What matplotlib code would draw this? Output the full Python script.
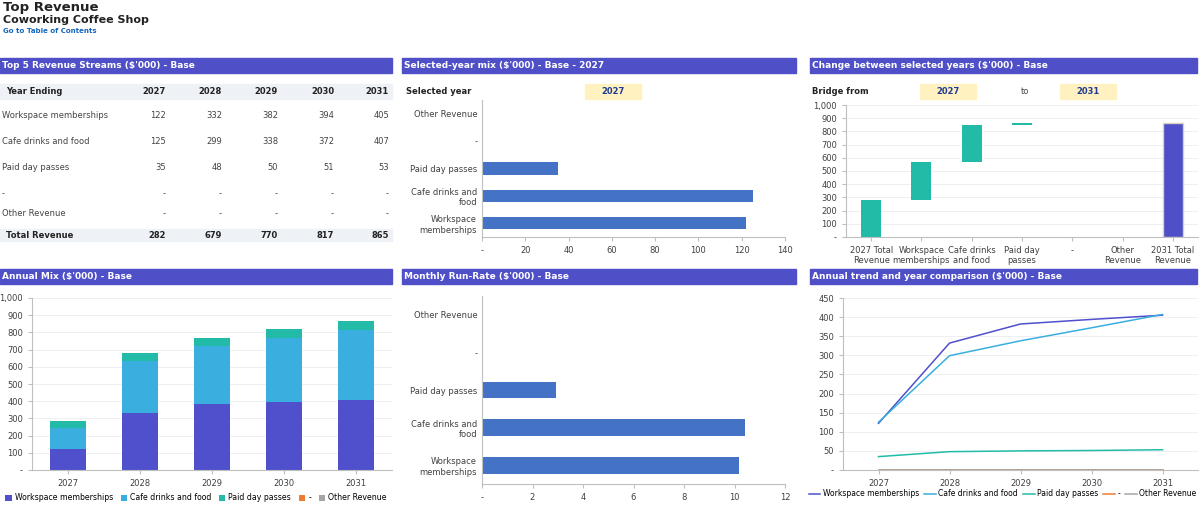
import matplotlib
matplotlib.use("Agg")
import matplotlib.pyplot as plt
import numpy as np
from matplotlib.patches import Rectangle

plt.rcParams['font.family'] = ['DejaVu Sans']

years = ["2027", "2028", "2029", "2030", "2031"]
streams = ["Workspace memberships", "Cafe drinks and food", "Paid day passes", "-", "Other Revenue"]
workspace = [122, 332, 382, 394, 405]
cafe = [125, 299, 338, 372, 407]
paid = [35, 48, 50, 51, 53]
dash = [0, 0, 0, 0, 0]
other = [0, 0, 0, 0, 0]
series = [workspace, cafe, paid, dash, other]
totals = [282, 679, 770, 817, 865]
bar_labels = ["Workspace\nmemberships", "Cafe drinks and\nfood", "Paid day passes", "-", "Other Revenue"]
bridge_labels = ["2027 Total\nRevenue", "Workspace\nmemberships", "Cafe drinks\nand food", "Paid day\npasses", "-", "Other\nRevenue", "2031 Total\nRevenue"]

colors = ["#5050CC", "#3AAEDF", "#22BBA8", "#ED7D31", "#A5A5A5"]
HDR = "#4F4FC8"
W, H = 1200, 523
FS = 6
fig = plt.figure(figsize=(12, 5.23), dpi=100)

def ax_px(x0, y0, x1, y1):
    return fig.add_axes([x0 / W, 1 - y1 / H, (x1 - x0) / W, (y1 - y0) / H])

def ftext(x, y, s, **kw):
    fig.text(x / W, 1 - y / H, s, **kw)

def header(x0, x1, y0, s):
    fig.patches.append(Rectangle((x0 / W, 1 - (y0 + 15) / H), (x1 - x0) / W, 15 / H,
                                 transform=fig.transFigure, color=HDR))
    ftext(x0 + 2, y0 + 7.5, s, color="white", fontsize=6.5, fontweight="bold", va="center")

def band(x0, x1, y0, y1, color):
    fig.patches.append(Rectangle((x0 / W, 1 - y1 / H), (x1 - x0) / W, (y1 - y0) / H,
                                 transform=fig.transFigure, color=color))

ftext(3, 8, "Top Revenue", fontsize=9.5, fontweight="bold", va="center", color="#222")
ftext(3, 20, "Coworking Coffee Shop", fontsize=8, fontweight="bold", va="center", color="#222")
ftext(3, 31, "Go to Table of Contents", fontsize=5, fontweight="bold", va="center", color="#1565C0")

header(0, 392, 58, "Top 5 Revenue Streams ($'000) - Base")
header(402, 796, 58, "Selected-year mix ($'000) - Base - 2027")
header(810, 1197, 58, "Change between selected years ($'000) - Base")
header(0, 392, 269, "Annual Mix ($'000) - Base")
header(402, 796, 269, "Monthly Run-Rate ($'000) - Base")
header(810, 1197, 269, "Annual trend and year comparison ($'000) - Base")

# Table
band(0, 392, 84, 99, "#EEF1F5")
band(0, 392, 229, 241, "#EEF1F5")
colx = [166, 222, 278, 334, 389]
ftext(6, 92, "Year Ending", fontsize=FS, fontweight="bold", va="center", color="#222")
for x, y in zip(colx, years):
    ftext(x, 92, y, fontsize=FS, fontweight="bold", va="center", ha="right", color="#222")
rowy = [116, 142, 168, 194, 214]
for ry, name, vals in zip(rowy, streams, series):
    ftext(2, ry, name, fontsize=FS, va="center", color="#444")
    for x, v in zip(colx, vals):
        ftext(x, ry, f"{v:,}" if v else "-", fontsize=FS, va="center", ha="right", color="#444")
ftext(6, 235, "Total Revenue", fontsize=FS, fontweight="bold", va="center", color="#222")
for x, v in zip(colx, totals):
    ftext(x, 235, f"{v:,}", fontsize=FS, fontweight="bold", va="center", ha="right", color="#222")

def style(ax, grid_axis):
    for s in ["top", "right"]:
        ax.spines[s].set_visible(False)
    for s in ["left", "bottom"]:
        ax.spines[s].set_color("#BFBFBF")
    ax.tick_params(labelsize=FS, colors="#404040", length=3, color="#BFBFBF")
    if grid_axis:
        ax.grid(axis=grid_axis, color="#EDEDED", lw=0.6)
    ax.set_axisbelow(True)

def fmt_k(v):
    return "-" if v == 0 else f"{v:,.0f}"

# Panel 2 selected year mix
ftext(406, 92, "Selected year", fontsize=FS, fontweight="bold", va="center", color="#222")
band(585, 641, 84, 99, "#FFF2C0")
ftext(613, 92, "2027", fontsize=FS, fontweight="bold", va="center", ha="center", color="#1F3A93")
ax = ax_px(482, 100, 785, 237)
vals27 = [s[0] for s in series]
ypos = np.arange(len(streams))
ax.barh(ypos, vals27, height=0.45, color="#4472C4")
ax.set_yticks(ypos, bar_labels)
ax.set_xlim(0, 140)
ax.set_xticks(np.arange(0, 141, 20), [fmt_k(v) for v in range(0, 141, 20)])
ax.set_ylim(-0.5, 4.5)
style(ax, None)
ax.tick_params(axis="y", length=0)

# Panel 3 bridge
ftext(812, 92, "Bridge from", fontsize=FS, fontweight="bold", va="center", color="#222")
band(920, 976, 84, 99, "#FFF2C0")
ftext(948, 92, "2027", fontsize=FS, fontweight="bold", va="center", ha="center", color="#1F3A93")
ftext(1025, 92, "to", fontsize=FS, va="center", ha="center", color="#444")
band(1060, 1116, 84, 99, "#FFF2C0")
ftext(1088, 92, "2031", fontsize=FS, fontweight="bold", va="center", ha="center", color="#1F3A93")
ax = ax_px(846, 105, 1198, 237)
deltas = [s[-1] - s[0] for s in series]
bottoms = [0]
heights = [totals[0]]
cum = totals[0]
for d in deltas:
    bottoms.append(cum)
    heights.append(d)
    cum += d
bottoms.append(0)
heights.append(totals[-1])
xs = np.arange(len(bridge_labels))
bc = ["#22BBA8"] * 6 + [HDR]
for i in range(len(xs)):
    if heights[i] == 0:
        continue
    ax.bar(xs[i], max(heights[i], 8), bottom=bottoms[i], width=0.4, color=bc[i],
           edgecolor="#D9D2C0" if i == 6 else bc[i], lw=1 if i == 6 else 0)
ax.set_xticks(xs, bridge_labels)
ax.set_xlim(-0.5, 6.5)
ax.set_ylim(0, 1000)
ax.set_yticks(np.arange(0, 1001, 100), [fmt_k(v) for v in range(0, 1001, 100)])
style(ax, "y")

# Row 2 panel 1: stacked
ax = ax_px(32, 298, 392, 470)
xs = np.arange(len(years))
bot = np.zeros(5)
for name, vals, c in zip(streams, series, colors):
    ax.bar(xs, vals, bottom=bot, width=0.5, color=c, label=name)
    bot += np.array(vals)
ax.set_xticks(xs, years)
ax.set_xlim(-0.5, 4.5)
ax.set_ylim(0, 1000)
ax.set_yticks(np.arange(0, 1001, 100), [fmt_k(v) for v in range(0, 1001, 100)])
style(ax, "y")
fig.legend(*ax.get_legend_handles_labels(), loc="center", bbox_to_anchor=(196 / W, 1 - 498 / H),
           ncol=5, frameon=False, fontsize=5.6, handlelength=0.8, handleheight=0.8,
           columnspacing=1.0, handletextpad=0.4)

# Row 2 panel 2: monthly
ax = ax_px(482, 296, 785, 484)
monthly = [v / 12 for v in vals27]
ax.barh(ypos, monthly, height=0.45, color="#4472C4")
ax.set_yticks(ypos, bar_labels)
ax.set_xlim(0, 12)
ax.set_xticks(np.arange(0, 13, 2), [fmt_k(v) for v in range(0, 13, 2)])
ax.set_ylim(-0.5, 4.5)
style(ax, None)
ax.tick_params(axis="y", length=0)

# Row 2 panel 3: lines
ax = ax_px(843, 298, 1198, 470)
for name, vals, c in zip(streams, series, colors):
    ax.plot(xs, vals, color=c, lw=1.1, label=name)
ax.set_xticks(xs, years)
ax.set_xlim(-0.5, 4.5)
ax.set_ylim(0, 450)
ax.set_yticks(np.arange(0, 451, 50), [fmt_k(v) for v in range(0, 451, 50)])
style(ax, "y")
fig.legend(*ax.get_legend_handles_labels(), loc="center right", bbox_to_anchor=(1197 / W, 1 - 494 / H),
           ncol=5, frameon=False, fontsize=5.5, handlelength=1.5, columnspacing=0.7,
           handletextpad=0.3, borderaxespad=0, borderpad=0.1)

fig.savefig("out.png", dpi=100)
